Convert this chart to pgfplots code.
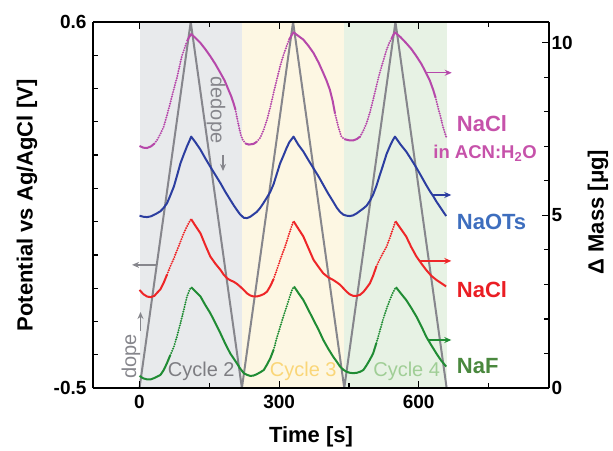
\documentclass[border=0pt]{standalone}
\usepackage{pgfplots}
\usepackage{pgfplotstable}
\pgfplotsset{compat=1.18}
\usepackage{fontspec}
\setmainfont{Liberation Sans}
\usetikzlibrary{arrows.meta}

\definecolor{cmag}{RGB}{182,72,170}
\definecolor{cblue}{RGB}{44,62,160}
\definecolor{cred}{RGB}{238,38,40}
\definecolor{cgreen}{RGB}{32,140,52}
\definecolor{lmag}{RGB}{198,82,170}
\definecolor{lblue}{RGB}{62,110,190}
\definecolor{lred}{RGB}{234,30,36}
\definecolor{lgreen}{RGB}{74,136,62}
\definecolor{pot}{RGB}{134,134,140}
\definecolor{shgray}{RGB}{232,234,236}
\definecolor{shyel}{RGB}{253,247,227}
\definecolor{shgrn}{RGB}{231,242,228}
\definecolor{cyc2}{RGB}{125,125,130}
\definecolor{cyc3}{RGB}{250,214,120}
\definecolor{cyc4}{RGB}{160,206,150}

% mass traces, t [s] and mass [ug]
\pgfplotstableread{
t m
0 7.01
8 6.96
16 6.95
25 7.00
32 7.08
38 7.19
45 7.36
52 7.57
59 7.90
66 8.25
73 8.62
81 9.02
86 9.32
91 9.61
97 9.85
102 10.04
107 10.17
111 10.25
120 10.14
131 9.99
141 9.82
152 9.61
163 9.38
174 9.12
183 8.90
191 8.64
197 8.45
202 8.25
206 8.07
209 7.86
212 7.67
215 7.48
218 7.32
222 7.18
228 7.08
235 7.05
245 7.07
252 7.13
259 7.24
266 7.45
274 7.77
281 8.13
288 8.54
295 8.93
302 9.31
309 9.63
316 9.90
322 10.10
327 10.22
331 10.30
341 10.20
352 10.09
363 9.91
374 9.70
385 9.42
395 9.12
402 8.90
409 8.64
415 8.32
420 7.96
424 7.74
427 7.57
431 7.40
434 7.28
440 7.21
445 7.19
452 7.17
459 7.17
467 7.21
474 7.28
481 7.45
488 7.67
495 7.98
502 8.35
509 8.74
516 9.12
524 9.48
531 9.80
537 10.00
542 10.13
546 10.24
549 10.30
561 10.16
573 9.99
584 9.82
595 9.61
606 9.38
616 9.12
624 8.90
631 8.64
636 8.42
641 8.15
647 7.85
652 7.57
656 7.40
659 7.28
}\nacl

\pgfplotstableread{
t m
0 4.99
8 4.96
16 4.95
24 4.97
35 5.04
45 5.12
52 5.22
59 5.35
66 5.57
74 5.84
81 6.17
88 6.51
95 6.76
102 7.00
107 7.15
111 7.28
120 7.12
131 6.90
141 6.66
152 6.41
163 6.17
174 5.93
184 5.69
195 5.45
202 5.30
209 5.16
216 5.03
224 4.93
231 4.92
238 4.96
245 5.03
252 5.10
259 5.21
266 5.35
274 5.52
281 5.68
288 5.90
295 6.20
302 6.50
309 6.72
316 6.95
322 7.12
331 7.28
341 7.05
352 6.85
363 6.60
374 6.36
385 6.12
395 5.88
405 5.64
416 5.40
424 5.22
431 5.10
438 5.02
445 4.99
452 4.98
459 5.00
467 5.06
474 5.13
481 5.20
488 5.28
495 5.42
502 5.60
509 5.85
516 6.15
524 6.48
531 6.78
538 7.00
544 7.17
549 7.28
561 7.05
573 6.85
584 6.62
595 6.38
606 6.12
616 5.88
624 5.70
631 5.56
638 5.40
645 5.26
652 5.12
659 4.98
}\naots

\pgfplotstableread{
t m
0 2.84
8 2.72
16 2.65
24 2.63
32 2.67
38 2.76
45 2.86
52 3.05
59 3.28
66 3.52
74 3.76
81 4.00
88 4.24
95 4.48
102 4.68
107 4.81
111 4.89
120 4.70
131 4.48
141 4.15
152 3.81
163 3.60
174 3.42
181 3.28
188 3.18
195 3.12
202 3.08
209 3.02
216 2.94
224 2.84
231 2.74
238 2.68
245 2.65
252 2.65
260 2.68
267 2.72
274 2.79
281 2.95
288 3.15
295 3.42
302 3.70
309 3.96
313 4.10
320 4.40
326 4.65
331 4.83
341 4.62
352 4.39
363 4.05
374 3.71
385 3.50
395 3.32
405 3.21
416 3.13
424 3.06
431 2.99
438 2.89
445 2.79
452 2.71
459 2.67
467 2.67
474 2.70
481 2.78
488 2.90
495 3.03
502 3.25
509 3.52
516 3.72
523 3.90
531 4.10
538 4.35
545 4.62
550 4.83
561 4.62
573 4.39
584 4.08
595 3.81
606 3.60
616 3.42
627 3.25
638 3.13
648 3.04
659 2.94
}\naclaq

\pgfplotstableread{
t m
0 0.35
8 0.28
16 0.25
24 0.25
32 0.29
38 0.33
45 0.38
52 0.52
59 0.72
66 0.95
74 1.20
81 1.52
88 1.88
95 2.26
102 2.65
107 2.82
111 2.92
120 2.80
131 2.65
141 2.41
152 2.17
163 1.88
174 1.58
184 1.29
195 1.00
202 0.86
209 0.72
216 0.57
224 0.43
231 0.38
238 0.35
245 0.36
252 0.40
260 0.46
267 0.52
274 0.68
281 0.86
288 1.10
295 1.45
302 1.76
309 2.07
316 2.35
323 2.65
328 2.85
332 2.94
341 2.76
352 2.55
363 2.26
374 1.97
385 1.68
395 1.39
405 1.15
416 0.91
424 0.76
431 0.62
438 0.53
445 0.47
452 0.44
459 0.43
467 0.44
474 0.47
481 0.52
488 0.66
495 0.82
502 1.00
509 1.30
516 1.63
523 1.97
531 2.30
538 2.55
544 2.75
551 2.92
561 2.75
573 2.55
584 2.32
595 2.07
606 1.78
616 1.49
627 1.24
638 1.00
648 0.80
659 0.62
}\naf

\tikzset{
  mass/.style={line width=2pt, line join=round},
  dots/.style={line width=2.2pt, line cap=round, dash pattern=on 0pt off 2.4pt},
  tag/.style={-{Stealth[length=7pt,width=6pt]}, line width=1.4pt},
}
\pgfplotsset{
  common/.style={
    at={(93pt,62pt)}, anchor=south west,
    width=456pt, height=366pt, scale only axis,
    xmin=-100, xmax=880,
    tick align=inside,
    major tick length=7pt, minor tick length=5pt,
    every tick/.style={black, line width=1.2pt},
    axis line style={line width=1.3pt},
    ticklabel style={font=\fontsize{19}{19}\selectfont\bfseries},
    /pgf/number format/assume math mode=true,
  },
}

\begin{document}
\begin{tikzpicture}
\useasboundingbox (0,0) rectangle (613pt,450pt);

% potential axis (left)
\begin{axis}[
  common,
  axis on top,
  ymin=-0.5, ymax=0.6,
  axis y line*=left,
  xtick={0,300,600}, minor xtick={150,450,750},
  ytick={-0.5,0.6}, yticklabels={-0.5,0.6},
  minor ytick={-0.4,-0.3,-0.2,-0.1,0,0.1,0.2,0.3,0.4,0.5},
  xticklabel style={yshift=-4pt},
  yticklabel style={xshift=-3pt},
]
\addplot[draw=none, fill=shgray] coordinates {(0,-0.5) (0,0.6) (220,0.6) (220,-0.5)};
\addplot[draw=none, fill=shyel] coordinates {(220,-0.5) (220,0.6) (440,0.6) (440,-0.5)};
\addplot[draw=none, fill=shgrn] coordinates {(440,-0.5) (440,0.6) (660,0.6) (660,-0.5)};
\addplot[pot, line width=2pt, line join=round] coordinates {
  (0,-0.5) (110,0.6) (220,-0.5) (330,0.6) (440,-0.5) (550,0.6) (660,-0.5)
};
\draw[tag, pot] (axis cs:38,-0.13) -- (axis cs:-16,-0.13);
\end{axis}

% mass axis (right)
\begin{axis}[
  common,
  ymin=0, ymax=10.6,
  axis y line*=right, axis x line=none,
  ytick={0,5,10},
  minor ytick={1,2,3,4,6,7,8,9},
  yticklabel style={xshift=-1pt},
]
% NaCl in ACN:H2O: solid where slow, dotted where it changes fast
\addplot[mass, cmag, restrict x to domain=0:32] table[x=t,y=m] {\nacl};
\addplot[mass, cmag, restrict x to domain=102:206] table[x=t,y=m] {\nacl};
\addplot[mass, cmag, restrict x to domain=228:252] table[x=t,y=m] {\nacl};
\addplot[mass, cmag, restrict x to domain=322:420] table[x=t,y=m] {\nacl};
\addplot[mass, cmag, restrict x to domain=440:474] table[x=t,y=m] {\nacl};
\addplot[mass, cmag, restrict x to domain=542:636] table[x=t,y=m] {\nacl};
\addplot[dots, cmag, restrict x to domain=32:102] table[x=t,y=m] {\nacl};
\addplot[dots, cmag, restrict x to domain=206:228] table[x=t,y=m] {\nacl};
\addplot[dots, cmag, restrict x to domain=252:322] table[x=t,y=m] {\nacl};
\addplot[dots, cmag, restrict x to domain=420:440] table[x=t,y=m] {\nacl};
\addplot[dots, cmag, restrict x to domain=474:542] table[x=t,y=m] {\nacl};
\addplot[dots, cmag, restrict x to domain=636:659] table[x=t,y=m] {\nacl};
% NaOTs
\addplot[mass, cblue] table[x=t,y=m] {\naots};
% NaCl
\addplot[mass, cred, restrict x to domain=0:59] table[x=t,y=m] {\naclaq};
\addplot[mass, cred, restrict x to domain=111:288] table[x=t,y=m] {\naclaq};
\addplot[mass, cred, restrict x to domain=331:509] table[x=t,y=m] {\naclaq};
\addplot[mass, cred, restrict x to domain=550:659] table[x=t,y=m] {\naclaq};
\addplot[dots, cred, restrict x to domain=59:111] table[x=t,y=m] {\naclaq};
\addplot[dots, cred, restrict x to domain=288:331] table[x=t,y=m] {\naclaq};
\addplot[dots, cred, restrict x to domain=509:550] table[x=t,y=m] {\naclaq};
% NaF
\addplot[mass, cgreen, restrict x to domain=0:66] table[x=t,y=m] {\naf};
\addplot[mass, cgreen, restrict x to domain=111:288] table[x=t,y=m] {\naf};
\addplot[mass, cgreen, restrict x to domain=332:509] table[x=t,y=m] {\naf};
\addplot[mass, cgreen, restrict x to domain=551:659] table[x=t,y=m] {\naf};
\addplot[dots, cgreen, restrict x to domain=66:111] table[x=t,y=m] {\naf};
\addplot[dots, cgreen, restrict x to domain=288:332] table[x=t,y=m] {\naf};
\addplot[dots, cgreen, restrict x to domain=509:551] table[x=t,y=m] {\naf};

\draw[tag, cmag] (axis cs:616,9.13) -- (axis cs:671,9.13);
\draw[tag, cblue] (axis cs:630,5.59) -- (axis cs:670,5.59);
\draw[tag, cred] (axis cs:603,3.68) -- (axis cs:670,3.68);
\draw[tag, cgreen] (axis cs:622,1.39) -- (axis cs:670,1.39);
\end{axis}

% annotations (picture coordinates in pt)
\node[rotate=90, font=\fontsize{22}{22}\selectfont\bfseries] at (27pt,244.5pt) {Potential vs Ag/AgCl [V]};
\node[rotate=90, font=\fontsize{22}{22}\selectfont\bfseries] at (598pt,238pt) {Δ Mass [μg]};
\node[font=\fontsize{22}{22}\selectfont\bfseries] at (311pt,13pt) {Time [s]};

\node[anchor=base west, inner sep=0pt, lmag, font=\fontsize{22}{22}\selectfont\bfseries] at (456.7pt,318.3pt) {NaCl};
\node[anchor=base, inner sep=0pt, lmag, font=\fontsize{18.5}{18.5}\selectfont\bfseries] at (485pt,291.7pt) {in ACN:H\textsubscript{2}O};
\node[anchor=base west, inner sep=0pt, lblue, font=\fontsize{22}{22}\selectfont\bfseries] at (456.7pt,220.7pt) {NaOTs};
\node[anchor=base west, inner sep=0pt, lred, font=\fontsize{22}{22}\selectfont\bfseries] at (456.7pt,152.7pt) {NaCl};
\node[anchor=base west, inner sep=0pt, lgreen, font=\fontsize{22}{22}\selectfont\bfseries] at (456.7pt,76.7pt) {NaF};

\node[anchor=base, inner sep=0pt, cyc2, font=\fontsize{20}{20}\selectfont] at (201.3pt,73.3pt) {Cycle 2};
\node[anchor=base, inner sep=0pt, cyc3, font=\fontsize{20}{20}\selectfont] at (303.3pt,73.3pt) {Cycle 3};
\node[anchor=base, inner sep=0pt, cyc4, font=\fontsize{20}{20}\selectfont] at (406.7pt,73.3pt) {Cycle 4};

\node[rotate=90, inner sep=0pt, pot, font=\fontsize{20}{20}\selectfont] at (131pt,93.5pt) {dope};
\draw[tag, pot, line width=1.1pt] (140.5pt,119pt) -- (140.5pt,138pt);
\node[rotate=-90, inner sep=0pt, pot, font=\fontsize{20}{20}\selectfont] at (216pt,340pt) {dedope};
\draw[tag, pot, line width=1.1pt] (223pt,295pt) -- (223pt,279pt);
\end{tikzpicture}
\end{document}
